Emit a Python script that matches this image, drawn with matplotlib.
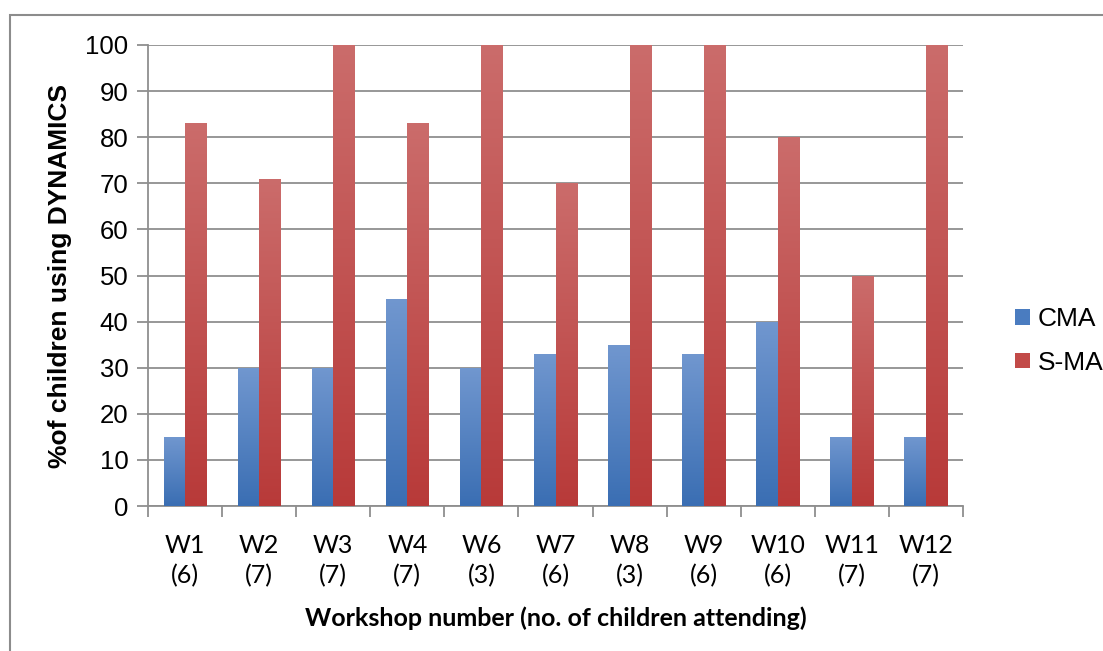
import numpy as np
import matplotlib
matplotlib.use("Agg")
import matplotlib.pyplot as plt
from matplotlib.colors import LinearSegmentedColormap
from matplotlib.patches import Rectangle

# workshop data
workshops = ["W1", "W2", "W3", "W4", "W6", "W7", "W8", "W9", "W10", "W11", "W12"]
attending = [6, 7, 7, 7, 3, 6, 3, 6, 6, 7, 7]
cma = [15, 30, 30, 45, 30, 33, 35, 33, 40, 15, 15]
sma = [83, 71, 100, 83, 100, 70, 100, 100, 80, 50, 100]

series_names = ["CMA", "S-MA"]
# (top colour, bottom colour) for the gradient fill
fills = [("#7197CF", "#3A6EB3"), ("#CB6C6B", "#B83A39")]
legend_cols = ["#4A7CC0", "#C24A48"]

fig = plt.figure(figsize=(11.03, 6.51), dpi=100)
ax = fig.add_axes([148 / 1103, 145 / 651, 815 / 1103, 461 / 651])

x = np.arange(len(workshops))
width = 0.29
grad = np.linspace(1, 0, 256).reshape(-1, 1)

for k, (vals, (top, bot)) in enumerate(zip([cma, sma], fills)):
    cmap = LinearSegmentedColormap.from_list("g%d" % k, [bot, top])
    offs = (k - 0.5) * width
    bars = ax.bar(x + offs, vals, width, color="none", linewidth=0, zorder=3)
    for b in bars:
        x0, y0 = b.get_x(), b.get_y()
        w, h = b.get_width(), b.get_height()
        im = ax.imshow(grad, cmap=cmap, vmin=0, vmax=1, aspect="auto",
                       extent=[x0, x0 + w, y0, y0 + h], zorder=3,
                       interpolation="bilinear")
        im.set_clip_path(b)
    # legend proxy
    ax.bar([0], [0], 0, color=legend_cols[k], label=series_names[k])

ax.set_xlim(-0.5, len(workshops) - 0.5)
ax.set_ylim(0, 100)
ax.set_yticks(np.arange(0, 101, 10))
ax.grid(axis="y", color="#8f8f8f", linewidth=1.3, zorder=0)
ax.set_axisbelow(True)

for s in ["top", "right"]:
    ax.spines[s].set_visible(False)
for s in ["left", "bottom"]:
    ax.spines[s].set_color("#8f8f8f")
    ax.spines[s].set_linewidth(1.3)

# category boundary ticks on x axis, labels at the centres
ax.set_xticks(np.arange(-0.5, len(workshops), 1.0))
ax.set_xticklabels([])
ax.set_xticks(x, minor=True)
ax.set_xticklabels(["%s\n(%d)" % (w, n) for w, n in zip(workshops, attending)],
                   minor=True, fontsize=18, family="Lato", linespacing=1.35)
ax.tick_params(axis="x", which="major", length=8, width=1.3, color="#8f8f8f")
ax.tick_params(axis="x", which="minor", length=0, pad=20)
ax.tick_params(axis="y", length=8, width=1.3, color="#8f8f8f", pad=6)
for t in ax.get_yticklabels():
    t.set_fontsize(18.5)
    t.set_family("Liberation Sans")

ax.set_ylabel("%of children using DYNAMICS", fontsize=19, fontweight="bold",
              family="Liberation Sans", labelpad=10)
ax.set_xlabel("Workshop number (no. of children attending)", fontsize=18,
              fontweight="bold", family="Lato", labelpad=14)

leg = ax.legend(loc="center left", bbox_to_anchor=(1.035, 0.358), frameon=False,
                prop={"family": "Liberation Sans", "size": 19},
                handlelength=0.55, handleheight=0.55, handletextpad=0.3,
                labelspacing=0.75)

# outer chart frame
fig.patches.append(Rectangle((10 / 1103, -0.1), 1.2, (651 - 15) / 651 + 0.1,
                             transform=fig.transFigure, fill=False,
                             edgecolor="#8c8c8c", linewidth=1.5))

fig.savefig("out.png", dpi=100)
